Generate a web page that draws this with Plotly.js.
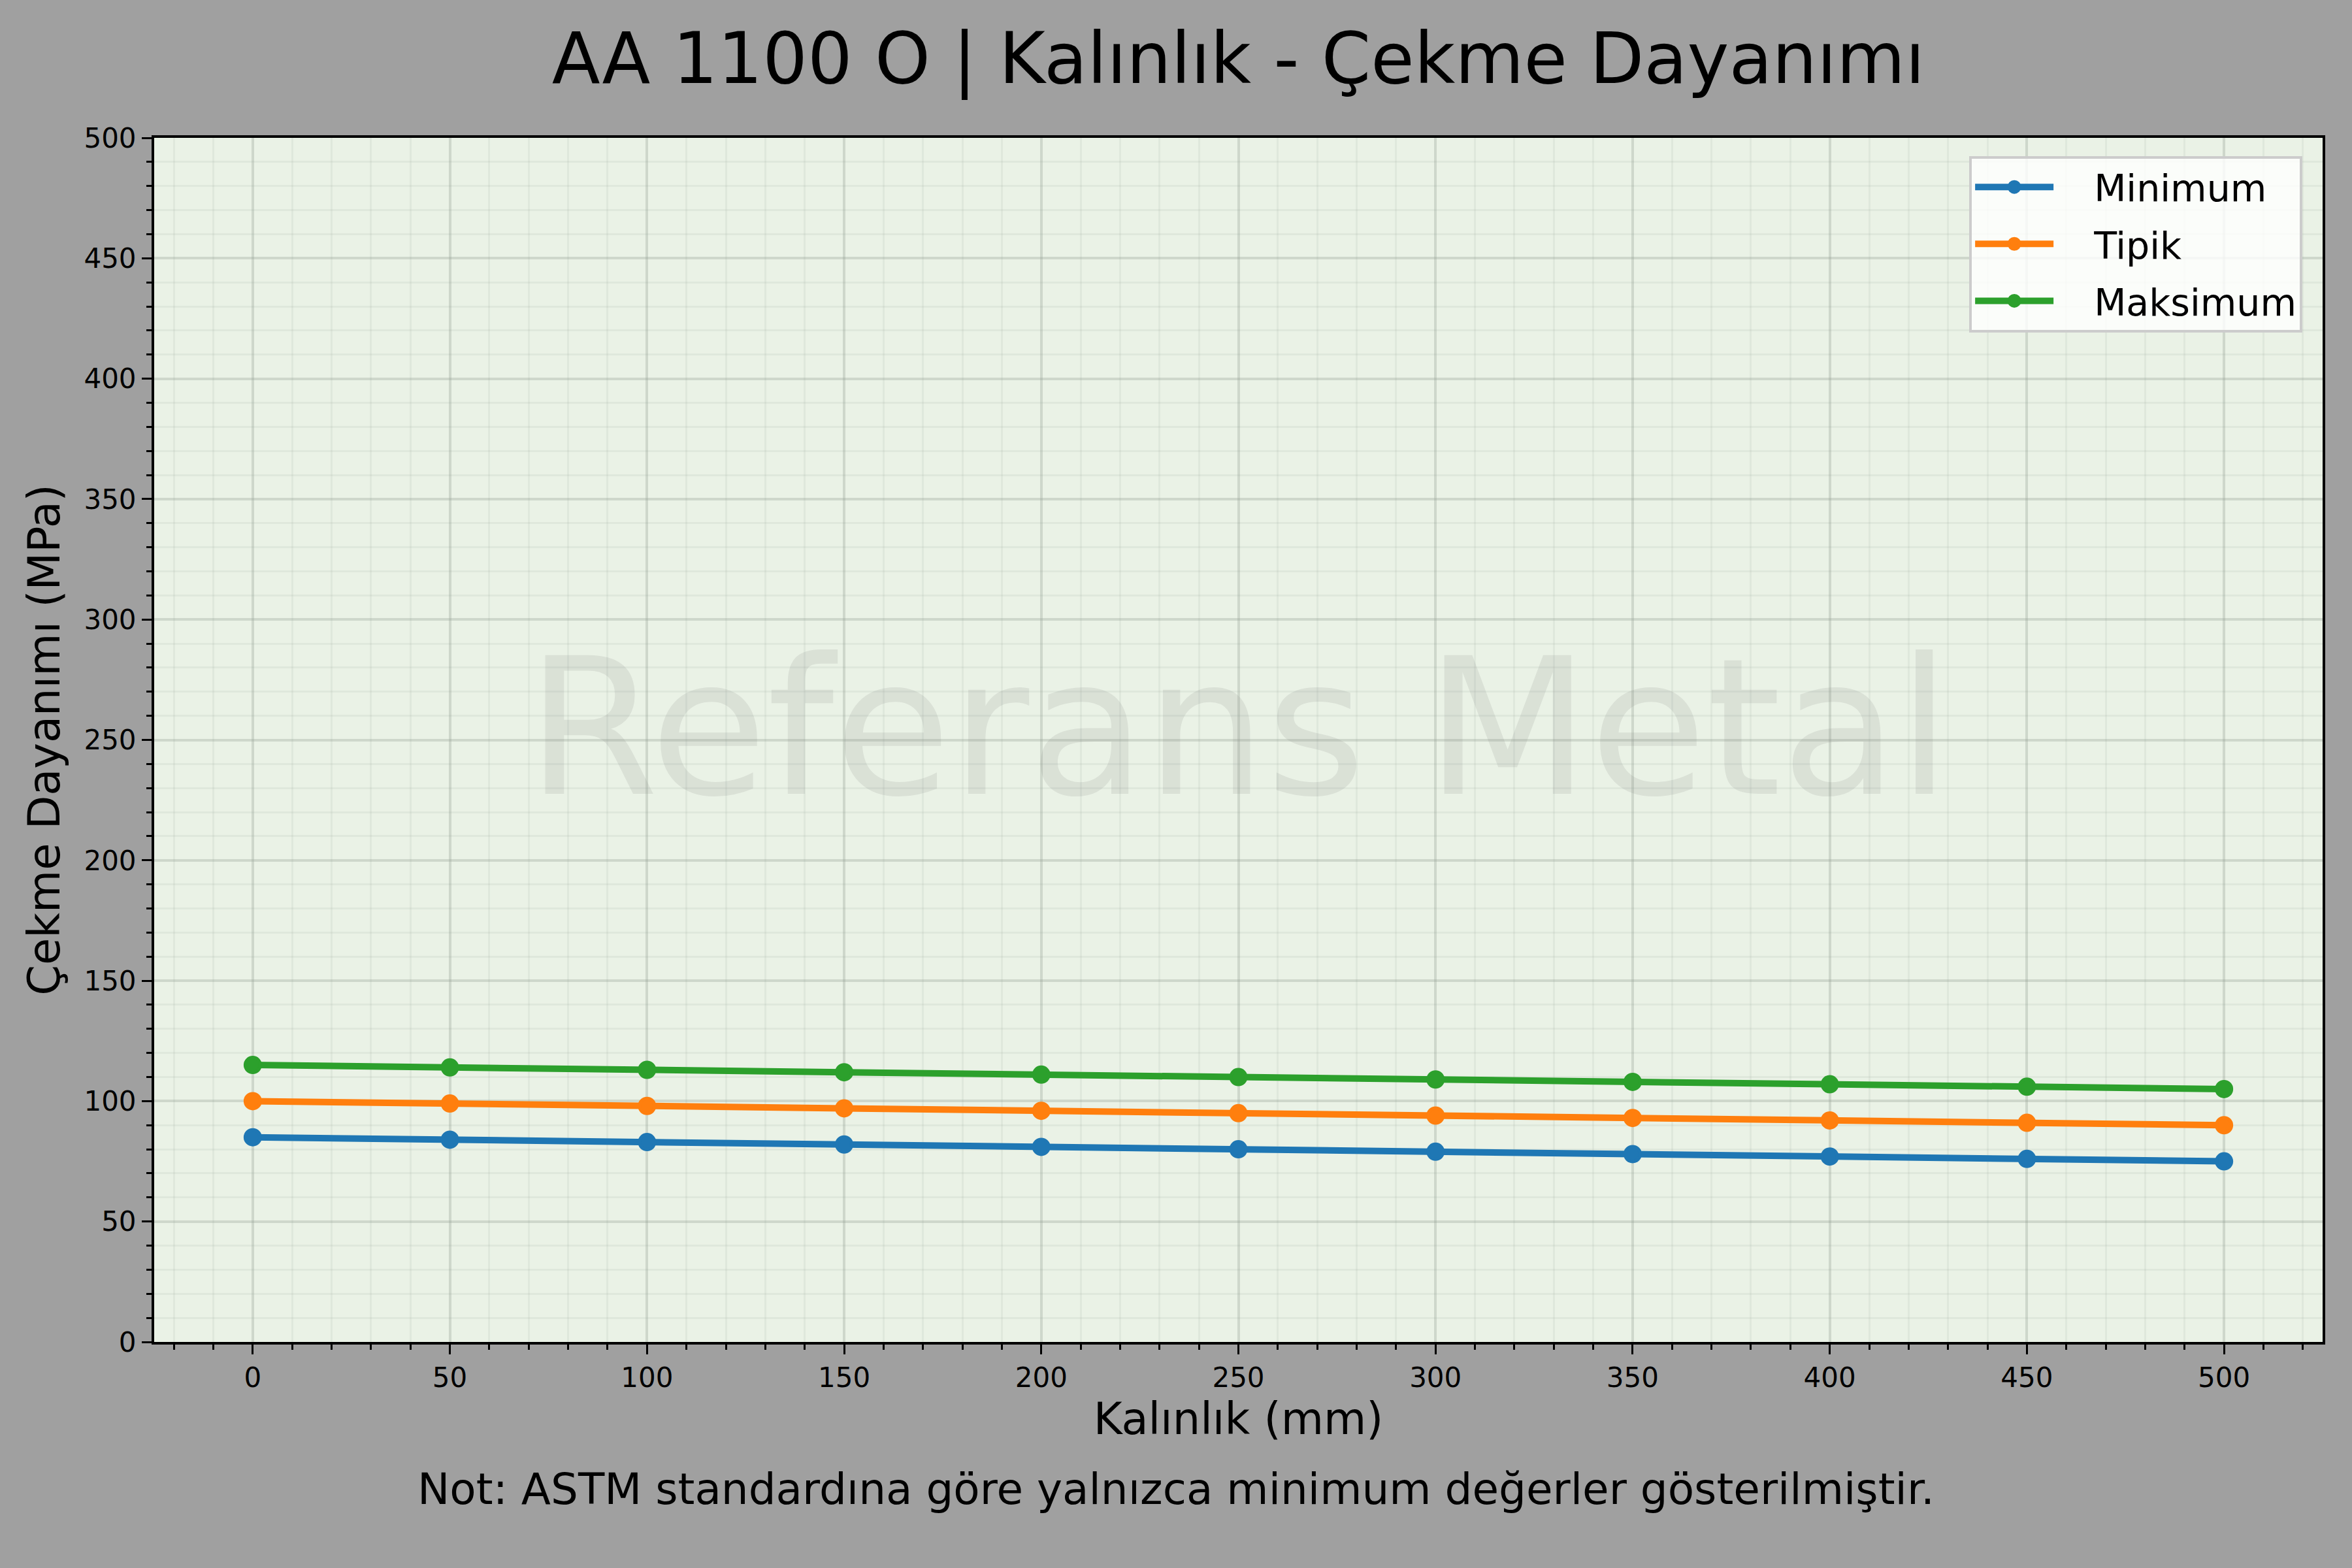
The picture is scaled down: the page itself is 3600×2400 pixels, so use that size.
<!DOCTYPE html>
<html>
<head>
<meta charset="utf-8">
<script src="https://cdn.plot.ly/plotly-3.0.1.min.js"></script>
<style>
  html, body { margin: 0; padding: 0; background: #a0a0a0; }
  #chart { width: 3600px; height: 2400px; }
</style>
</head>
<body>
<div id="chart"></div>
<script>
// thickness values (mm)
const thickness = [0, 50, 100, 150, 200, 250, 300, 350, 400, 450, 500];

// tensile strength (MPa) per series
const minimum = [85, 84, 83, 82, 81, 80, 79, 78, 77, 76, 75];
const tipik = [100, 99, 98, 97, 96, 95, 94, 93, 92, 91, 90];
const maksimum = [115, 114, 113, 112, 111, 110, 109, 108, 107, 106, 105];

const seriesNames = ["Minimum", "Tipik", "Maksimum"];
const seriesColors = ["#1f77b4", "#ff7f0e", "#2ca02c"];

const FONT = "DejaVu Sans, Verdana, sans-serif";

function lineTrace(name, values, color) {
  return {
    x: thickness,
    y: values,
    // leading gap between legend swatch and label, like the original
    name: "\u2002\u2002" + name,
    legendgroup: name,
    mode: "lines+markers",
    line: { color: color, width: 10 },
    // outline in the same colour so the legend dot comes out bigger too
    marker: { color: color, size: 23, line: { color: color, width: 5 } },
  };
}

const traces = [
  lineTrace(seriesNames[0], minimum, seriesColors[0]),
  lineTrace(seriesNames[1], tipik, seriesColors[1]),
  lineTrace(seriesNames[2], maksimum, seriesColors[2]),
];

function axisStyle() {
  return {
    showline: true,
    mirror: true,
    linecolor: "#000",
    linewidth: 4,
    ticks: "outside",
    ticklen: 15,
    tickwidth: 3,
    tickcolor: "#000",
    tickfont: { family: FONT, size: 42, color: "#000" },
    showgrid: true,
    gridcolor: "rgba(150,160,150,0.33)",
    gridwidth: 4,
    zeroline: false,
    dtick: 50,
    minor: {
      dtick: 10,
      ticks: "outside",
      ticklen: 8,
      tickwidth: 3,
      tickcolor: "#000",
      showgrid: true,
      gridcolor: "rgba(170,180,170,0.16)",
      gridwidth: 3,
    },
  };
}

const xaxis = Object.assign(axisStyle(), {
  range: [-25, 525],
  tick0: 0,
  title: { text: "Kalınlık (mm)", font: { family: FONT, size: 67, color: "#000" }, standoff: 15 },
});

const yaxis = Object.assign(axisStyle(), {
  range: [0, 500],
  tick0: 0,
  title: { text: "Çekme Dayanımı (MPa)", font: { family: FONT, size: 67, color: "#000" }, standoff: 16 },
});

const layout = {
  width: 3600,
  height: 2400,
  paper_bgcolor: "#a0a0a0",
  plot_bgcolor: "#eaf2e6",
  margin: { l: 236, r: 45, t: 211, b: 346 },
  font: { family: FONT, color: "#000" },
  title: {
    text: "AA 1100 O | Kalınlık - Çekme Dayanımı",
    font: { family: FONT, size: 108, color: "#000" },
    x: 0.5,
    xref: "paper",
    xanchor: "center",
    y: 0.963,
    yref: "container",
    yanchor: "middle",
  },
  xaxis: xaxis,
  yaxis: yaxis,
  showlegend: true,
  legend: {
    x: 0.9907,
    xanchor: "right",
    y: 0.985,
    yanchor: "top",
    bgcolor: "rgba(255,255,255,0.8)",
    bordercolor: "#cccccc",
    borderwidth: 4,
    font: { family: FONT, size: 57, color: "#000" },
    itemwidth: 120,
    tracegroupgap: 10,
  },
  annotations: [
    {
      text: "Referans Metal",
      xref: "paper",
      yref: "paper",
      x: 0.5,
      y: 0.51,
      xanchor: "center",
      yanchor: "middle",
      showarrow: false,
      font: { family: FONT, size: 291, color: "rgba(128,128,128,0.15)" },
    },
    {
      // centred on the whole figure, not on the plot area
      text: "Not: ASTM standardına göre yalnızca minimum değerler gösterilmiştir.",
      xref: "paper",
      yref: "paper",
      x: 0.4712,
      y: -0.1226,
      xanchor: "center",
      yanchor: "middle",
      showarrow: false,
      font: { family: FONT, size: 66, color: "#000" },
    },
  ],
};

Plotly.newPlot("chart", traces, layout, { staticPlot: true, displayModeBar: false });
</script>
</body>
</html>
